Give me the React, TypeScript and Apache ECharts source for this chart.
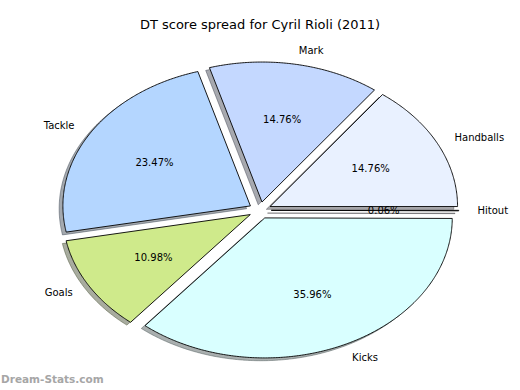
import React, { useEffect, useRef } from "react";
import * as echarts from "echarts";

const categories = ["Handballs", "Mark", "Tackle", "Goals", "Kicks", "Hitout"];
const percentages = [14.76, 14.76, 23.47, 10.98, 35.96, 0.06];
const sliceColors = ["#e9f1ff", "#c4d8ff", "#b4d6ff", "#cfea8b", "#d9ffff", "#e4e4f4"];
const titleText = "DT score spread for Cyril Rioli (2011)";
const watermarkText = "Dream-Stats.com";

const CX = 260;
const CY = 210.3;
const RX = 187.5;
const RY = 140;
const EXPLODE = 0.06;
const LABEL_DIST = 1.1;
const PCT_DIST = 0.6;
const SHADOW_OFF = 0.02;
const FONT = "'DejaVu Sans', sans-serif";

function hexToRgb(h: string): number[] {
  const n = parseInt(h.slice(1), 16);
  return [(n >> 16) & 255, (n >> 8) & 255, n & 255];
}

export default function App() {
  const ref = useRef<HTMLDivElement>(null);
  useEffect(() => {
    document.body.style.margin = "0";
    if (!ref.current) return;
    const chart = echarts.init(ref.current, undefined, { renderer: "svg" });
    const total = percentages.reduce((a, b) => a + b, 0);
    const starts: number[] = [];
    let acc = 0;
    percentages.forEach((v) => {
      starts.push((acc / total) * 360);
      acc += v;
    });

    const wedgePoints = (x0: number, y0: number, a0: number, a1: number) => {
      const pts: number[][] = [[x0, y0]];
      const n = Math.max(2, Math.ceil((a1 - a0) / 0.5) + 1);
      for (let k = 0; k < n; k++) {
        const t = ((a0 + ((a1 - a0) * k) / (n - 1)) * Math.PI) / 180;
        pts.push([x0 + RX * Math.cos(t), y0 - RY * Math.sin(t)]);
      }
      return pts;
    };

    const renderItem = (params: any, api: any) => {
      const i = params.dataIndex;
      const v = api.value(1) as number;
      const a0 = starts[i];
      const a1 = a0 + (v / total) * 360;
      const mid = (((a0 + a1) / 2) * Math.PI) / 180;
      const cm = Math.cos(mid);
      const sm = Math.sin(mid);
      const ox = CX + EXPLODE * RX * cm;
      const oy = CY - EXPLODE * RY * sm;
      const rgb = hexToRgb(sliceColors[i]).map((c) => Math.round(c * 0.3));
      const shadowColor = `rgba(${rgb[0]},${rgb[1]},${rgb[2]},0.45)`;
      return {
        type: "group",
        children: [
          {
            type: "polygon",
            z2: 1,
            shape: { points: wedgePoints(ox - SHADOW_OFF * RX, oy + SHADOW_OFF * RY, a0, a1) },
            style: { fill: shadowColor, stroke: shadowColor, lineWidth: 1 },
          },
          {
            type: "polygon",
            z2: 5,
            shape: { points: wedgePoints(ox, oy, a0, a1) },
            style: { fill: sliceColors[i], stroke: "#000", lineWidth: 0.9, lineJoin: "miter" },
          },
          {
            type: "text",
            z2: 10,
            x: ox + LABEL_DIST * RX * cm,
            y: oy - LABEL_DIST * RY * sm,
            style: {
              text: categories[i],
              fill: "#000",
              font: `10px ${FONT}`,
              align: cm > 0 ? "left" : "right",
              verticalAlign: "middle",
            },
          },
          {
            type: "text",
            z2: 10,
            x: ox + PCT_DIST * RX * cm,
            y: oy - PCT_DIST * RY * sm,
            style: {
              text: ((v / total) * 100).toFixed(2) + "%",
              fill: "#000",
              font: `10px ${FONT}`,
              align: "center",
              verticalAlign: "middle",
            },
          },
        ],
      };
    };

    chart.setOption({
      animation: false,
      backgroundColor: "#ffffff",
      title: {
        text: titleText,
        left: "center",
        top: 13,
        textStyle: { fontSize: 13, fontWeight: "normal", fontFamily: FONT, color: "#000" },
      },
      graphic: [
        {
          type: "text",
          left: 1,
          top: 373,
          style: {
            text: watermarkText,
            fill: "#a6a6a6",
            font: `bold 10.5px ${FONT}`,
          },
        },
      ],
      series: [
        {
          type: "custom",
          coordinateSystem: "none",
          renderItem,
          data: categories.map((c, i) => [i, percentages[i]]),
        },
      ],
    });
    return () => chart.dispose();
  }, []);
  return <div ref={ref} style={{ width: 520, height: 390 }} />;
}
